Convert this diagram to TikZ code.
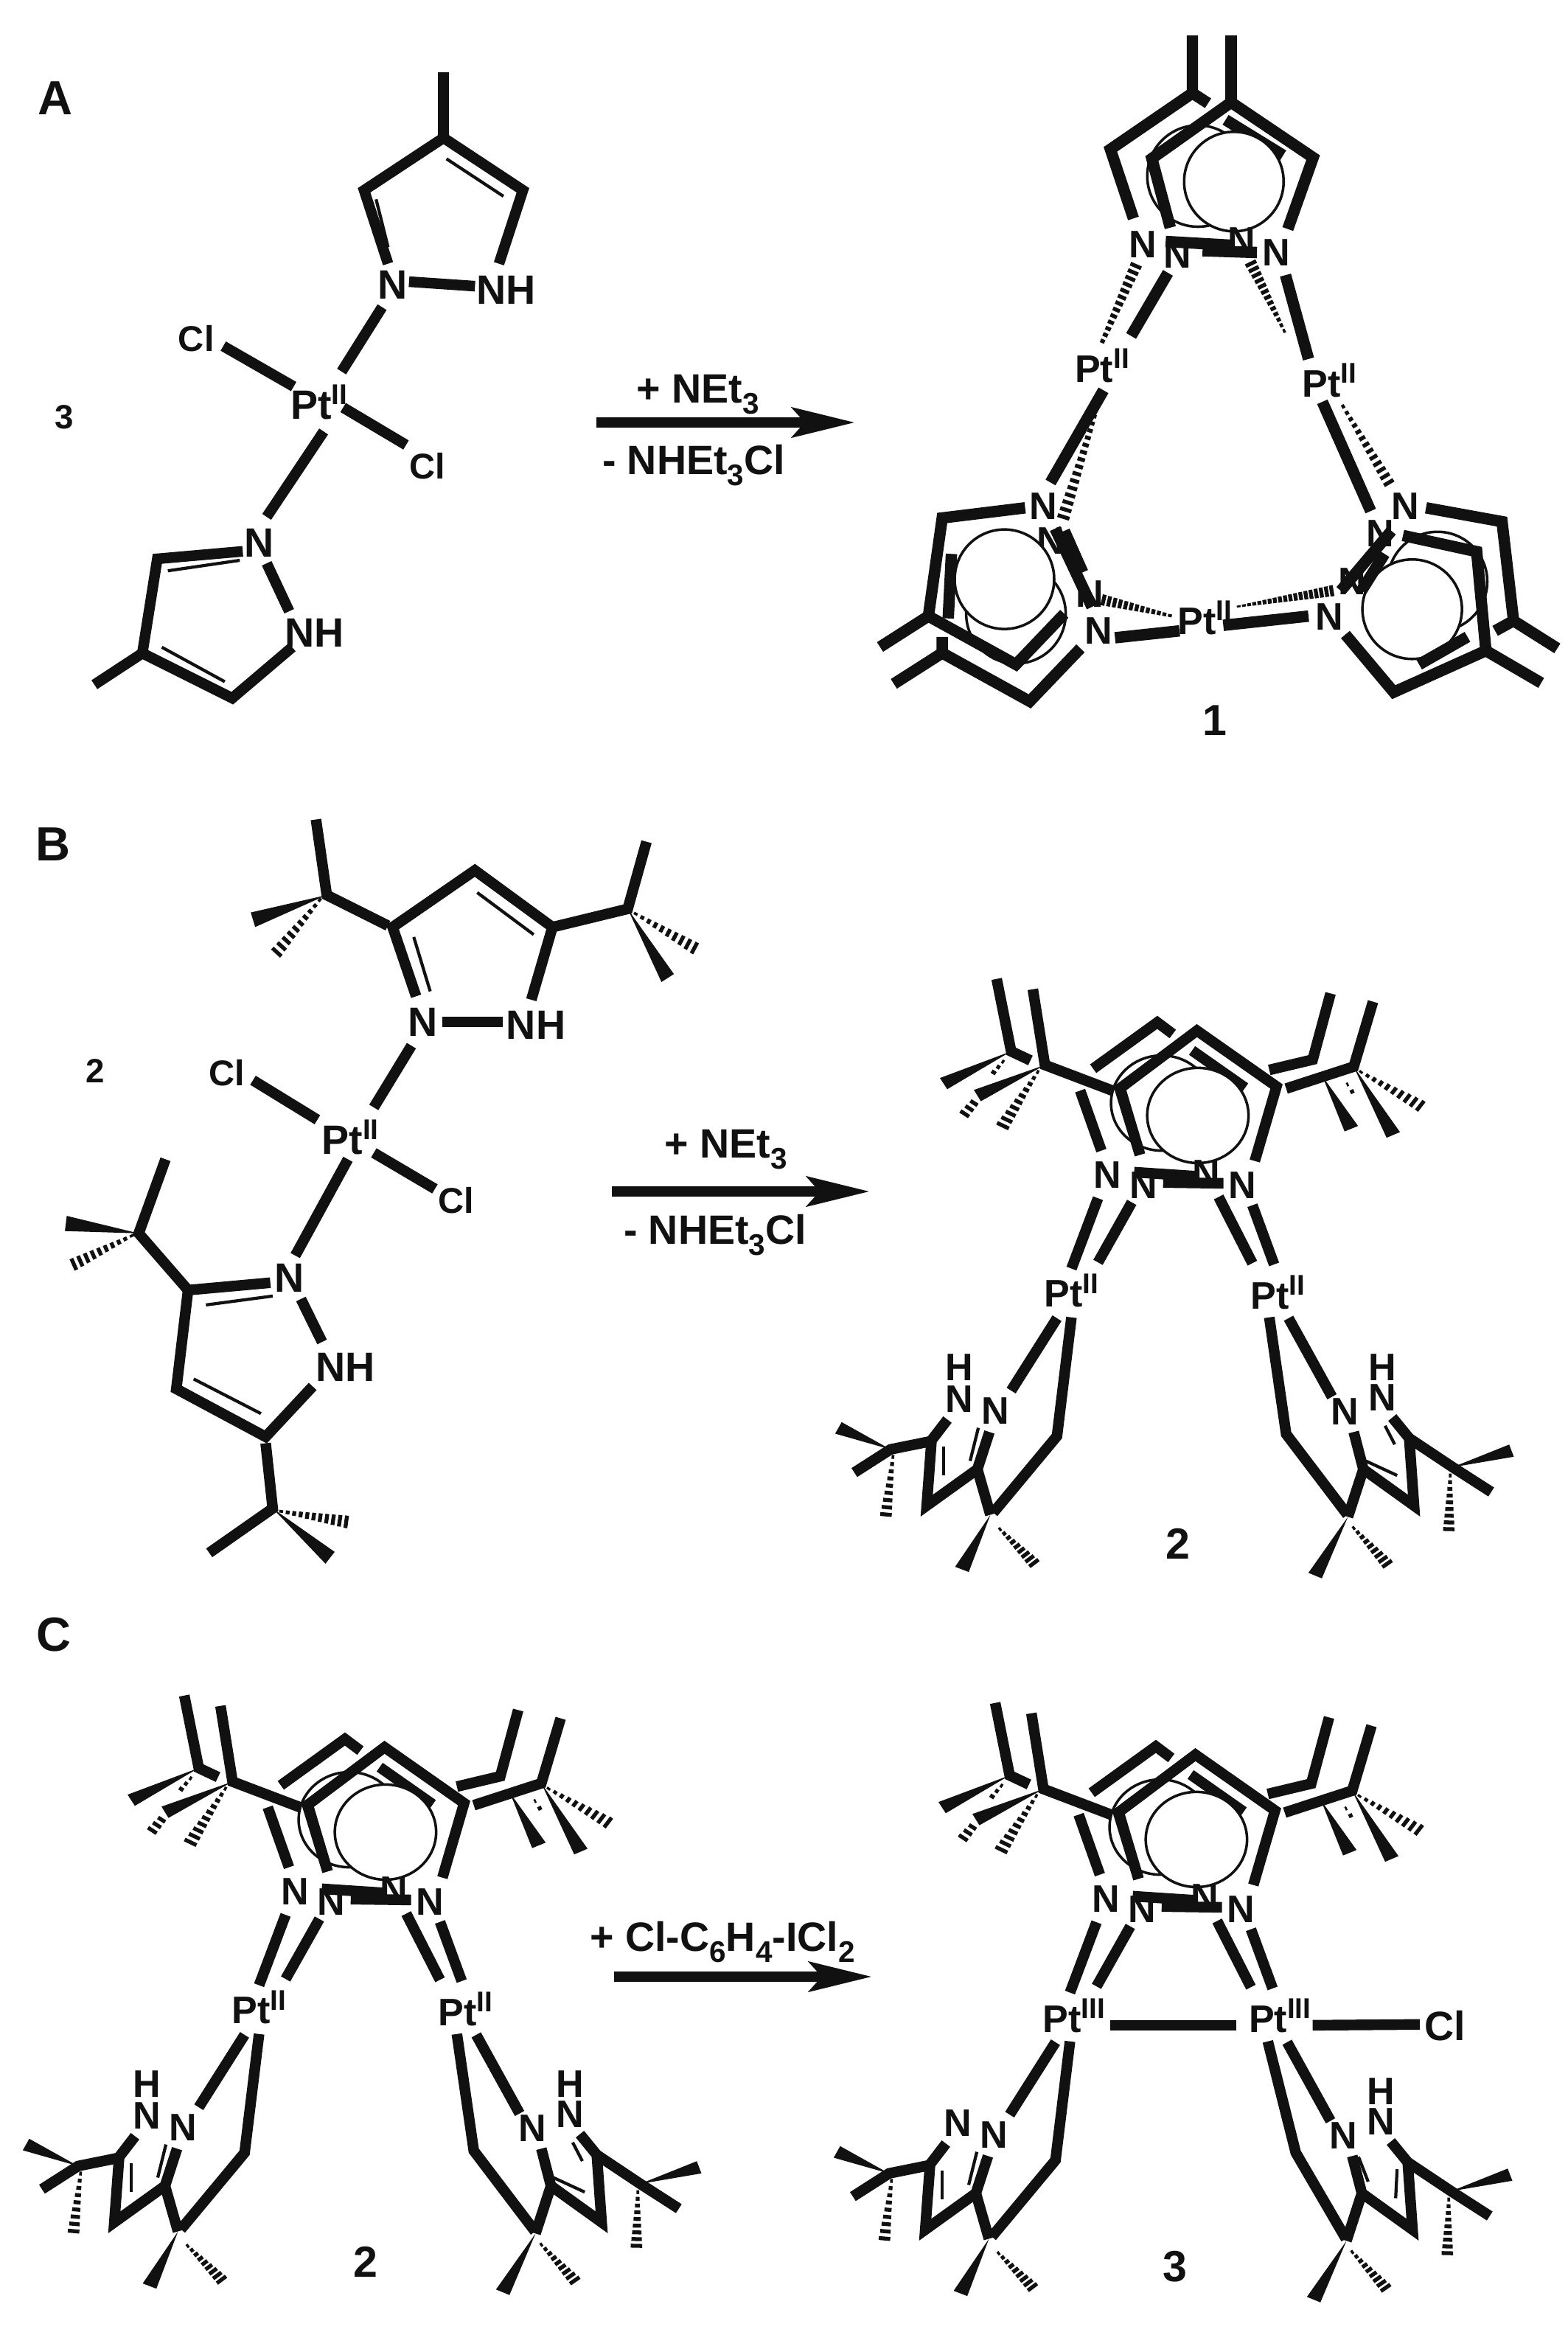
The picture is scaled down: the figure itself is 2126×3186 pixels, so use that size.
\documentclass[tikz,border=0pt]{standalone}
\usepackage{fontspec}
\setmainfont{Liberation Sans}
\usetikzlibrary{calc,arrows.meta}
\definecolor{ink}{HTML}{111111}
\newcount\nodeidx
\newcommand{\sups}[1]{\raisebox{.36em}{\fontsize{11}{11}\selectfont #1}}
\newcommand{\subs}[1]{\raisebox{-.26em}{\fontsize{11.5}{11}\selectfont #1}}
\tikzset{
  bd/.style={draw=ink,line width=4.1pt,line cap=butt,line join=miter},
  bdA/.style={draw=ink,line width=4.4pt,line cap=butt,line join=miter},
  tb/.style={draw=ink,line width=1.2pt},
  orb/.style={draw=ink,line width=1pt,fill=white},
  hs/.style={draw=ink,line width=1.5pt},
  lab/.style={inner sep=0pt,text=ink,font=\bfseries\fontsize{14.8}{15}\selectfont,text height=10.6pt,text depth=0pt},
  labL/.style={lab,font=\bfseries\fontsize{15.8}{16}\selectfont,text height=11.3pt},
  labC/.style={lab,font=\bfseries\fontsize{13.8}{14}\selectfont,text height=9.9pt},
  labBig/.style={lab,font=\bfseries\fontsize{18.5}{19}\selectfont,text height=13.3pt},
  labNum/.style={lab,font=\bfseries\fontsize{16.8}{17}\selectfont,text height=12.1pt},
  labSm/.style={lab,font=\bfseries\fontsize{13}{14}\selectfont,text height=9.4pt},
  rxn/.style={draw=ink,line width=4pt,-{Stealth[length=.85cm,width=.4cm,inset=.17cm]}}
}
\newcommand{\lb}[3][lab]{\global\advance\nodeidx by 1 \node[#1] (t\the\nodeidx) at (#2) {#3};}
% hashed bond: from, to, half width at start, at end (pt), strokes
\newcommand{\hashb}[5]{%
  \coordinate (ha) at (#1); \coordinate (hb) at (#2);
  \foreach \ii in {0,...,#5}{%
    \pgfmathsetmacro{\tt}{0.96*\ii/#5}
    \pgfmathsetmacro{\hw}{#3+(#4-#3)*\ii/#5}
    \coordinate (hp) at ($(ha)!\tt!(hb)$);
    \draw[hs] ($(hp)!\hw pt!90:(hb)$) -- ($(hp)!\hw pt!-90:(hb)$);
  }}
% wedge: apex, wide end, half width (pt)
\newcommand{\wedgeb}[3]{%
  \coordinate (wa) at (#1); \coordinate (wb) at (#2);
  \fill[ink] (wa) -- ($(wb)!#3pt!90:(wa)$) -- ($(wb)!#3pt!-90:(wa)$) -- cycle;}
% shared upper part of the dimer
\newcommand{\dimercore}{%
  % back tBu groups
  \draw[bd] (385,85) -- (415,260) -- (455,282);
  \wedgeb{415,260}{275,338}{4.4}
  \hashb{398,285}{378,312}{.8}{1.5}{2}
  \hashb{338,385}{318,412}{2.6}{3.2}{2}
  \draw[bd] (1077,120) -- (1040,280) -- (950,305);
  \wedgeb{1060,320}{1120,447}{4.4}
  \hashb{1112,340}{1122,358}{.6}{1.2}{1}
  % back ring
  \draw[bd] (585,302) -- (718,190) -- (750,218);
  \draw[bd] (790,258) -- (900,348);
  \draw[bd] (558,355) -- (602,500);
  \draw[orb] (727,385) ellipse [x radius=105,y radius=115];
  % front ring, inner part
  \draw[bd] (640,345) -- (682,510);
  \draw[orb] (802,415) ellipse [x radius=105,y radius=115];
  % front ring outer
  \draw[bd] (682,510) -- (640,350) -- (800,210) -- (965,345) -- (920,525);
  % front tBu groups
  \draw[bd] (460,110) -- (485,293) -- (625,355);
  \wedgeb{485,293}{345,367}{4.4}
  \hashb{470,310}{395,445}{.8}{4}{9}
  \draw[bd] (1165,140) -- (1125,297) -- (985,350);
  \wedgeb{1125,297}{1207,462}{4.4}
  \hashb{1140,310}{1268,395}{.8}{4}{9}
  % N labels
  \lb{820,553}{N}
  \lb{615,557}{N}
  \lb{690,582}{N}
  \lb{895,582}{N}
  % N--N bonds
  \draw[bd] (670,552) -- (800,562);
  \draw[bd] (730,577) -- (855,579);
  % N--Pt bonds
  \draw[bd] (595,615) -- (540,785);
  \draw[bd] (665,625) -- (595,770);
  \draw[bd] (845,612) -- (915,772);
  \draw[bd] (915,632) -- (960,775);
}
% lower left arm
\newcommand{\lowerleft}{%
  \draw[bd] (510,905) -- (415,1080);
  \draw[bd] (540,903) -- (510,1190) -- (378,1375);
  \lb{382,1128}{N}
  \lb{307,1100}{N}
  \draw[bd] (283,1150) -- (250,1200) -- (240,1358) -- (345,1270) -- (370,1180);
  \draw[tb] (275,1215) -- (275,1285);
  \draw[tb] (347,1170) -- (330,1250);
  \draw[bd] (250,1202) -- (165,1222) -- (90,1278);
  \wedgeb{165,1222}{57,1170}{4.4}
  \hashb{170,1240}{155,1385}{.8}{3.4}{8}
  \draw[bd] (345,1270) -- (372,1380);
  \wedgeb{372,1380}{313,1512}{4.4}
  \hashb{392,1415}{465,1500}{.8}{3.6}{8}
}
% lower right arm; chain bend and thin bonds differ in panel variants
\newcommand{\lowerright}[3]{%
  \draw[bd] (990,905) -- (1080,1095);
  \draw[bd] (950,903) -- (#1) -- (1112,1380);
  \lb{1107,1130}{N}
  \lb{1185,1095}{N}
  \draw[bd] (1125,1180) -- (1145,1270) -- (1250,1358) -- (1240,1195) -- (1205,1145);
  \draw[bd] (1145,1270) -- (1113,1385);
  \draw[tb] #2;
  \draw[tb] #3;
  \draw[bd] (1240,1195) -- (1330,1265) -- (1410,1325);
  \wedgeb{1330,1265}{1452,1225}{4.4}
  \hashb{1325,1285}{1322,1420}{.8}{3.4}{8}
  \wedgeb{1113,1385}{1045,1527}{4.4}
  \hashb{1125,1412}{1197,1502}{.8}{3.6}{8}
}
\begin{document}
\begin{tikzpicture}[x=0.01cm,y=-0.01cm]
\useasboundingbox (0,0) rectangle (2126,3186);
\fill[white] (0,0) rectangle (2126,3186);

% ---- panel A left ----
\begin{scope}[xscale=2.0325,yscale=2.032]
  \lb[labBig]{37,65}{A}
  \lb[labSm]{43,278}{3}
  \draw[bd] (296,48) -- (296,92);
  \draw[bd] (259,176) -- (243,127) -- (296,92) -- (349,127) -- (333,176);
  \draw[tb] (298,106) -- (336,131);
  \draw[tb] (251,133) -- (259,165);
  \lb[labL]{262,190}{N}
  \lb[labL]{338,193}{NH}
  \draw[bd] (273,188) -- (317,191);
  \draw[bd] (255,205) -- (228,248);
  \lb[labL]{213,270}{Pt\sups{II}}
  \lb[labC]{131,226}{Cl}
  \lb[labC]{285,311}{Cl}
  \draw[bd] (149,231) -- (196,258);
  \draw[bd] (229,272) -- (271,297);
  \draw[bd] (216,288) -- (178,345);
  \lb[labL]{173,362}{N}
  \lb[labL]{210,422}{NH}
  \draw[bd] (162,368) -- (105,373) -- (95,436) -- (155,466) -- (195,432);
  \draw[tb] (112,381) -- (160,374);
  \draw[tb] (108,432) -- (150,455);
  \draw[bd] (178,376) -- (193,408);
  \draw[bd] (95,436) -- (63,457);
\end{scope}

% arrows and reagent text
\coordinate (a1s) at (809,573); \coordinate (a1e) at (1160,573);
\draw[rxn] (a1s) -- (a1e);
\lb[labL]{947,527}{+ NEt\subs{3}}
\lb[labL]{941,624}{- NHEt\subs{3}Cl}
\coordinate (a2s) at (830,1616); \coordinate (a2e) at (1180,1616);
\draw[rxn] (a2s) -- (a2e);
\lb[labL]{985,1551}{+ NEt\subs{3}}
\lb[labL]{970,1668}{- NHEt\subs{3}Cl}
\coordinate (a3s) at (833,2681); \coordinate (a3e) at (1183,2681);
\draw[rxn] (a3s) -- (a3e);
\lb[labL]{980,2627}{+ Cl-C\subs{6}H\subs{4}-ICl\subs{2}}

% ---- panel A right: trimer ----
\begin{scope}[shift={(1150,20)},scale=.625]
  % top
  \draw[bdA] (748,45) -- (748,170) -- (782,192);
  \draw[bdA] (748,170) -- (570,292) -- (620,442);
  \draw[bdA] (820,228) -- (945,305);
  \draw[orb] (760,350) circle [radius=110];
  \draw[bdA] (832,45) -- (832,190);
  \draw[bdA] (700,462) -- (660,312) -- (832,190) -- (1010,310) -- (955,465);
  \draw[orb] (838,362) circle [radius=108];
  \lb{855,490}{N}
  \lb{640,497}{N}
  \lb{715,520}{N}
  \lb{930,515}{N}
  \draw[bdA] (690,492) -- (830,500);
  \draw[bdA] (770,512) -- (888,516);
  \hashb{625,545}{550,715}{3.6}{1.4}{12}
  \hashb{875,540}{950,692}{3.6}{.8}{12}
  \draw[bdA] (695,560) -- (615,697);
  \draw[bdA] (950,565) -- (1000,747);
  \lb{552,768}{Pt\sups{II}}
  \lb{1045,800}{Pt\sups{II}}
  % lower left
  \draw[bdA] (555,815) -- (440,1015);
  \hashb{545,840}{465,1100}{.9}{3.8}{16}
  \lb{425,1065}{N}
  \lb{440,1140}{N}
  \draw[orb] (365,1300) circle [radius=108];
  \draw[orb] (340,1225) circle [radius=108];
  \draw[bdA] (385,1070) -- (205,1092) -- (175,1305) -- (365,1410) -- (470,1300);
  \draw[bdA] (175,1305) -- (70,1372);
  \draw[bdA] (225,1170) -- (218,1310);
  \draw[bdA] (205,1350) -- (205,1385) -- (395,1490) -- (505,1375);
  \draw[bdA] (205,1385) -- (100,1452);
  \draw[bdA] (450,1115) -- (530,1285);
  \draw[bdA] (470,1120) -- (510,1210);
  \lb{525,1255}{N}
  \lb{545,1335}{N}
  \hashb{555,1270}{705,1305}{3.4}{.9}{12}
  \draw[bdA] (580,1352) -- (720,1337);
  % lower right
  \hashb{1075,850}{1178,1022}{1}{3.4}{12}
  \draw[bdA] (1030,840) -- (1135,1077);
  \lb{1210,1065}{N}
  \lb{1155,1125}{N}
  \draw[orb] (1280,1230) circle [radius=108];
  \draw[orb] (1225,1290) circle [radius=108];
  \draw[bdA] (1255,1070) -- (1420,1100) -- (1445,1315) -- (1540,1375);
  \draw[bdA] (1445,1315) -- (1405,1337);
  \draw[bdA] (1205,1130) -- (1365,1165) -- (1385,1380) -- (1505,1450);
  \draw[bdA] (1385,1380) -- (1185,1470) -- (1080,1345);
  \draw[bdA] (1345,1350) -- (1240,1410);
  \lb{1095,1228}{N}
  \draw[bdA] (1070,1250) -- (1180,1120);
  \draw[bdA] (1115,1250) -- (1165,1170);
  \lb{1045,1305}{N}
  \hashb{1050,1250}{840,1285}{3.4}{.6}{18}
  \lb{775,1315}{Pt\sups{II}}
  \draw[bdA] (815,1325) -- (1000,1305);
\end{scope}
\lb[labNum]{1648,976}{1}

% ---- panel B left ----
\lb[labBig]{72,1144}{B}
\begin{scope}[shift={(0,1080)},xscale=.6378,yscale=.6698]
  \lb[labSm]{203,555}{2}
  \lb[labL]{900,457}{N}
  \lb[labL]{1140,462}{NH}
  \draw[bd] (885,405) -- (835,265) -- (1010,150) -- (1175,265) -- (1130,412);
  \draw[tb] (880,285) -- (915,395);
  \draw[tb] (1015,195) -- (1135,280);
  \draw[bd] (940,457) -- (1070,457);
  \draw[bd] (825,262) -- (695,200) -- (672,47);
  \wedgeb{695,200}{538,250}{4.4}
  \hashb{680,210}{585,320}{.8}{3.6}{9}
  \draw[bd] (1175,265) -- (1335,228) -- (1375,92);
  \wedgeb{1335,228}{1420,368}{4.4}
  \hashb{1352,238}{1482,310}{.8}{3.6}{9}
  \lb[labL]{745,695}{Pt\sups{II}}
  \lb[labC]{483,560}{Cl}
  \lb[labC]{970,818}{Cl}
  \draw[bd] (538,575) -- (675,655);
  \draw[bd] (875,505) -- (795,630);
  \draw[bd] (795,722) -- (925,795);
  \draw[bd] (740,735) -- (628,930);
  \lb[labL]{615,975}{N}
  \draw[bd] (575,985) -- (400,1000);
  \draw[tb] (438,1030) -- (580,1012);
  \draw[bd] (400,1000) -- (295,885) -- (352,735);
  \wedgeb{295,885}{140,865}{4.4}
  \hashb{280,890}{152,950}{.8}{3.6}{9}
  \draw[bd] (400,1000) -- (375,1200) -- (565,1297) -- (665,1195);
  \draw[tb] (412,1180) -- (555,1250);
  \draw[bd] (640,1018) -- (685,1105);
  \lb[labL]{735,1155}{NH}
  \draw[bd] (565,1310) -- (580,1442) -- (445,1532);
  \wedgeb{580,1442}{702,1542}{4.4}
  \hashb{598,1448}{742,1470}{.8}{3.6}{10}
\end{scope}

% ---- panel B right ----
\begin{scope}[shift={(1100,1280)},xscale=.6545,yscale=.5612]
  \dimercore
  \lb{540,845}{Pt\sups{II}}
  \lb{968,850}{Pt\sups{II}}
  \lowerleft
  \lb{307,1022}{H}
  \lowerright{985,1185}{(1150,1250) -- (1215,1285)}{(1190,1165) -- (1210,1210)}
  \lb{1185,1022}{H}
\end{scope}
\lb[labNum]{1598,2093}{2}

% ---- panel C ----
\lb[labBig]{73,2216}{C}
\begin{scope}[shift={(-2,2252)},xscale=.6545,yscale=.5612]
  \dimercore
  \lb{540,845}{Pt\sups{II}}
  \lb{968,850}{Pt\sups{II}}
  \lowerleft
  \lb{307,1022}{H}
  \lowerright{985,1185}{(1150,1250) -- (1215,1285)}{(1190,1165) -- (1210,1210)}
  \lb{1185,1022}{H}
\end{scope}
\lb[labNum]{496,3067}{2}

\begin{scope}[shift={(1098,2262)},xscale=.6545,yscale=.5612]
  \dimercore
  \lb{548,847}{Pt\sups{III}}
  \lb{975,847}{Pt\sups{III}}
  \draw[bd] (623,864) -- (885,864);
  \draw[bd] (1043,864) -- (1265,862);
  \lb[labL]{1318,866}{Cl}
  \lowerleft
  \lowerright{1008,1172}{(1138,1182) -- (1158,1242)}{(1218,1212) -- (1215,1282)}
  \lb{1185,1022}{H}
\end{scope}
\lb[labNum]{1594,3073}{3}
\end{tikzpicture}
\end{document}
